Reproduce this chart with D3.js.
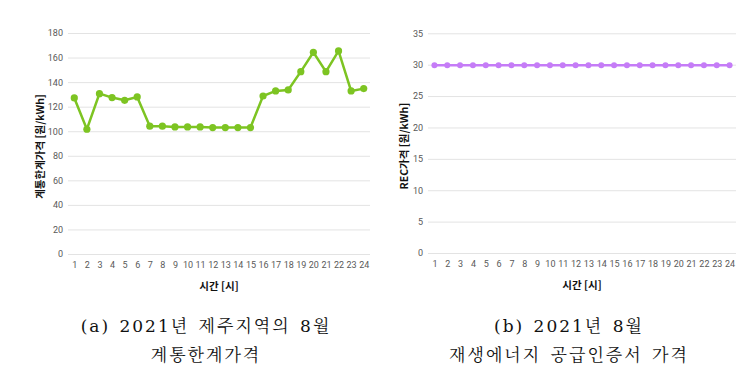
<!DOCTYPE html>
<html><head><meta charset="utf-8">
<script src="https://cdn.jsdelivr.net/npm/d3@7"></script>
<style>
body{margin:0;background:#fff;}
svg{display:block;}
.tick text{font-family:"Liberation Sans Narrow","Roboto","Noto Sans",sans-serif;font-size:9px;fill:#595959;}
.axt{font-family:"Noto Sans CJK KR",sans-serif;font-weight:bold;font-size:10.5px;fill:#111;}
.cap{font-family:"DejaVu Serif","Noto Serif CJK KR","Noto Sans CJK KR",serif;font-size:17px;fill:#111;letter-spacing:2px;word-spacing:2px;}
</style></head>
<body>
<svg id="c" width="756" height="388"></svg>
<script>
const hours = d3.range(1,25);
const smpValues = [127.1,101.6,130.6,127.4,125.2,127.9,104.1,104.1,103.5,103.5,103.5,103.0,103.0,103.0,103.0,128.7,132.8,133.6,148.5,164.3,148.5,165.4,132.8,134.7];
const recValues = [29.9,29.9,29.9,29.9,29.9,29.9,29.9,29.9,29.9,29.9,29.9,29.9,29.9,29.9,29.9,29.9,29.9,29.9,29.9,29.9,29.9,29.9,29.9,29.9];
const smpTicks = [0,20,40,60,80,100,120,140,160,180];
const recTicks = [0,5,10,15,20,25,30,35];
const xTitle = "시간 [시]";
const smpYTitle = "계통한계가격 [원/kWh]";
const recYTitle = "REC가격 [원/kWh]";
const capA = ["(a) 2021년 제주지역의 8월","계통한계가격"];
const capB = ["(b) 2021년 8월","재생에너지 공급인증서 가격"];

const svg = d3.select("#c");

function panel(o){
  const g = svg.append("g");
  const x = d3.scalePoint().domain(hours).range([o.x0,o.x1]).padding(0.5);
  const y = d3.scaleLinear().domain([0,o.max]).range([o.y0,o.y1]);
  const ya = d3.axisLeft(y).tickValues(o.ticks).tickSize(-(o.x1-o.x0)).tickPadding(5);
  const gy = g.append("g").attr("transform",`translate(${o.x0},0)`).call(ya);
  gy.select(".domain").remove();
  gy.selectAll(".tick line").attr("stroke","#e3e3e3").attr("stroke-width",1);
  const xa = d3.axisBottom(x).tickSize(0).tickPadding(8);
  const gx = g.append("g").attr("transform",`translate(0,${o.y0})`).call(xa);
  gx.select(".domain").remove();
  const line = d3.line().x((d,i)=>x(hours[i])).y(d=>y(d));
  g.append("path").datum(o.values).attr("d",line).attr("fill","none")
    .attr("stroke",o.color).attr("stroke-width",o.lw);
  g.selectAll("circle.m").data(o.values).enter().append("circle")
    .attr("cx",(d,i)=>x(hours[i])).attr("cy",d=>y(d)).attr("r",o.r).attr("fill",o.color);
  g.append("text").attr("class","axt").attr("text-anchor","middle")
    .attr("x",(o.x0+o.x1)/2).attr("y",o.y0+36).text(xTitle);
  g.append("text").attr("class","axt").attr("text-anchor","middle")
    .attr("transform",`translate(${o.tx},${(o.y0+o.y1)/2+3}) rotate(-90)`).text(o.yTitle);
  o.cap.forEach((c,i)=>{
    g.append("text").attr("class","cap").attr("text-anchor","middle")
      .attr("x",o.capX).attr("y",332+i*29).text(c);
  });
}

panel({x0:68,x1:370,y0:254,y1:33,max:180,ticks:smpTicks,values:smpValues,color:"#7dc422",lw:2.5,r:3.6,
       tx:44,yTitle:smpYTitle,cap:capA,capX:206});
panel({x0:428,x1:736,y0:253,y1:33.3,max:35,ticks:recTicks,values:recValues,color:"#c57cf7",lw:2.5,r:3,
       tx:408,yTitle:recYTitle,cap:capB,capX:569});
</script>
</body></html>
